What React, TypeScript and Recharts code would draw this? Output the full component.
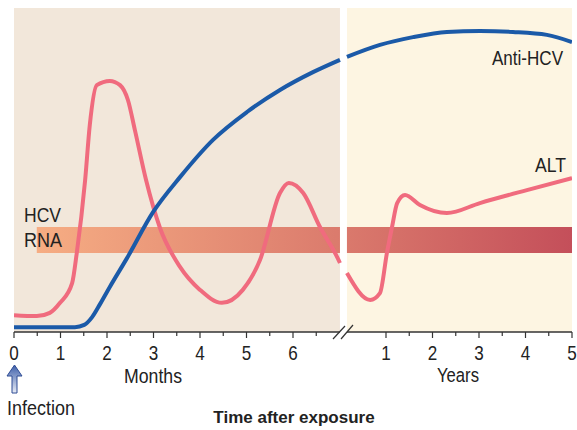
import { LineChart, Line, XAxis, YAxis, ReferenceArea, ReferenceLine } from 'recharts';

// tick labels
const MONTH_TICKS = ['0', '1', '2', '3', '4', '5', '6'];
const YEAR_TICKS = ['1', '2', '3', '4', '5'];
const YEAR_OFFSET = 7; // year n is drawn at position 7 + n
const BREAK_START = 7.01; // white gap between the months and years panels
const BREAK_END = 7.16;
const RNA_START = 0.49;
const RNA_LOW = 24.4;
const RNA_HIGH = 32.4;

// ALT (pink)
const ALT_EARLY = [
  { t: 0, v: 5.2 }, { t: 0.49, v: 4.9 }, { t: 0.77, v: 5.9 }, { t: 0.99, v: 9.0 },
  { t: 1.25, v: 15.1 }, { t: 1.35, v: 24.4 }, { t: 1.53, v: 46.9 }, { t: 1.63, v: 63.9 },
  { t: 1.78, v: 76.2 }, { t: 2.06, v: 77.5 }, { t: 2.28, v: 76.2 }, { t: 2.45, v: 71.6 },
  { t: 2.6, v: 62.3 }, { t: 2.84, v: 46.9 }, { t: 3.14, v: 32.1 }, { t: 3.57, v: 20.1 },
  { t: 4.0, v: 13.0 }, { t: 4.47, v: 9.0 }, { t: 4.92, v: 13.0 }, { t: 5.29, v: 22.2 },
  { t: 5.72, v: 42.9 }, { t: 5.91, v: 46.0 }, { t: 6.22, v: 42.9 }, { t: 6.58, v: 32.4 },
  { t: 6.95, v: 23.1 }, { t: 7.01, v: 21.3 },
];
const ALT_LATE = [
  { t: 7.16, v: 18.2 }, { t: 7.66, v: 9.9 }, { t: 7.87, v: 12.0 }, { t: 8.02, v: 24.4 },
  { t: 8.13, v: 32.4 }, { t: 8.24, v: 39.8 }, { t: 8.41, v: 42.3 }, { t: 8.73, v: 39.2 },
  { t: 9.31, v: 36.7 }, { t: 10.02, v: 39.8 }, { t: 11.03, v: 43.8 }, { t: 12, v: 47.5 },
];

// Anti-HCV (blue)
const ANTI_EARLY = [
  { t: 0, v: 1.5 }, { t: 1.31, v: 1.5 }, { t: 1.51, v: 2.2 }, { t: 1.68, v: 4.6 },
  { t: 1.85, v: 8.6 }, { t: 2.06, v: 13.9 }, { t: 2.43, v: 22.8 }, { t: 2.99, v: 37.0 },
  { t: 3.57, v: 47.8 }, { t: 4.28, v: 59.3 }, { t: 5.01, v: 67.9 }, { t: 5.72, v: 74.7 },
  { t: 6.43, v: 80.2 }, { t: 7.01, v: 84.0 },
];
const ANTI_LATE = [
  { t: 7.16, v: 84.9 }, { t: 7.87, v: 88.6 }, { t: 8.58, v: 91.0 }, { t: 9.31, v: 92.6 },
  { t: 10.02, v: 92.9 }, { t: 10.73, v: 92.6 }, { t: 11.46, v: 91.7 }, { t: 12, v: 89.5 },
];

const FONT = '"Liberation Sans", Arial, sans-serif';
const PINK = '#F06B7E';
const BLUE = '#1B5AA8';

const MAJOR = [
  ...MONTH_TICKS.map((_, i) => i),
  ...YEAR_TICKS.map((_, i) => YEAR_OFFSET + i + 1),
];
const MINOR = [
  ...MONTH_TICKS.map((_, i) => i + 0.5),
  ...YEAR_TICKS.slice(1).map((_, i) => YEAR_OFFSET + i + 1.5),
];
const TICKS = [...MAJOR, ...MINOR].sort((a, b) => a - b);

function AxisTick(props: any) {
  const { x, y, payload } = props;
  const t = payload.value as number;
  const major = Number.isInteger(t);
  let label: string | null = null;
  if (major) label = t < YEAR_OFFSET ? MONTH_TICKS[t] : YEAR_TICKS[t - YEAR_OFFSET - 1];
  return (
    <g>
      <line x1={x} x2={x} y1={y} y2={y + (major ? 6 : 4)} stroke="#333" strokeWidth={1.2} />
      {label && (
        <text
          x={x}
          y={y + 28}
          textAnchor="middle"
          fontSize={21}
          fontFamily={FONT}
          fill="#222"
          textLength={9.5}
          lengthAdjust="spacingAndGlyphs"
        >
          {label}
        </text>
      )}
    </g>
  );
}

// condensed text: regular font squeezed to the narrow width of the original
function Label({ x, y, w, anchor = 'start', children }: any) {
  return (
    <text
      x={x}
      y={y}
      textAnchor={anchor}
      fontSize={20.5}
      fontFamily={FONT}
      fill="#222"
      textLength={w}
      lengthAdjust="spacingAndGlyphs"
    >
      {children}
    </text>
  );
}

export default function App() {
  return (
    <div style={{ position: 'absolute', left: 0, top: 0, width: 577, height: 430, background: '#fff' }}>
      <svg width={0} height={0} style={{ position: 'absolute' }}>
        <defs>
          <linearGradient id="rnaBand" x1="0" y1="0" x2="1" y2="0">
            <stop offset="0%" stopColor="#F6AD83" />
            <stop offset="56%" stopColor="#DB7B6D" />
            <stop offset="100%" stopColor="#C44F5A" />
          </linearGradient>
          <linearGradient id="arrowFill" x1="0" y1="0" x2="0" y2="1">
            <stop offset="0%" stopColor="#3D5FAA" />
            <stop offset="100%" stopColor="#E8ECF6" />
          </linearGradient>
        </defs>
      </svg>
      <LineChart width={577} height={430} margin={{ top: 8, right: 5, bottom: 68, left: 14 }}>
        <XAxis
          type="number"
          dataKey="t"
          domain={[0, 12]}
          ticks={TICKS}
          interval={0}
          allowDataOverflow
          axisLine={false}
          tickLine={false}
          tickSize={0}
          tickMargin={0}
          height={30}
          tick={<AxisTick />}
        />
        <YAxis
          type="number"
          domain={[0, 100]}
          width={0}
          tick={false}
          tickLine={false}
          axisLine={{ stroke: '#222', strokeWidth: 1.5 }}
        />
        <ReferenceArea x1={0} x2={BREAK_START} y1={0} y2={100} fill="#F2E7DA" fillOpacity={1} stroke="none" />
        <ReferenceArea x1={BREAK_END} x2={12} y1={0} y2={100} fill="#FDF5E2" fillOpacity={1} stroke="none" />
        <ReferenceArea x1={RNA_START} x2={12} y1={RNA_LOW} y2={RNA_HIGH} fill="url(#rnaBand)" fillOpacity={1} stroke="none" />
        <ReferenceArea x1={BREAK_START} x2={BREAK_END} y1={0} y2={100} fill="#fff" fillOpacity={1} stroke="none" />
        <ReferenceLine segment={[{ x: 0, y: 0 }, { x: BREAK_START, y: 0 }]} stroke="#333" strokeWidth={1.3} ifOverflow="visible" />
        <ReferenceLine segment={[{ x: BREAK_END, y: 0 }, { x: 12, y: 0 }]} stroke="#333" strokeWidth={1.3} ifOverflow="visible" />
        <Line data={ALT_EARLY} dataKey="v" type="monotone" stroke={PINK} strokeWidth={4} dot={false} isAnimationActive={false} />
        <Line data={ALT_LATE} dataKey="v" type="monotone" stroke={PINK} strokeWidth={4} dot={false} isAnimationActive={false} />
        <Line data={ANTI_EARLY} dataKey="v" type="monotone" stroke={BLUE} strokeWidth={4} dot={false} isAnimationActive={false} />
        <Line data={ANTI_LATE} dataKey="v" type="monotone" stroke={BLUE} strokeWidth={4} dot={false} isAnimationActive={false} />
      </LineChart>
      <svg width={577} height={430} style={{ position: 'absolute', left: 0, top: 0, pointerEvents: 'none' }}>
        <line x1={333} y1={339} x2={345} y2={326} stroke="#333" strokeWidth={1.2} />
        <line x1={341} y1={339} x2={353} y2={325} stroke="#333" strokeWidth={1.2} />
        <Label x={563} y={65} w={71} anchor="end">Anti-HCV</Label>
        <Label x={566} y={172} w={31} anchor="end">ALT</Label>
        <Label x={24} y={222} w={37}>HCV</Label>
        <Label x={24} y={247} w={38}>RNA</Label>
        <Label x={153} y={383} w={58} anchor="middle">Months</Label>
        <Label x={458} y={382} w={42} anchor="middle">Years</Label>
        <Label x={7} y={415} w={68}>Infection</Label>
        <text x={294} y={423} textAnchor="middle" fontSize={17} fontWeight="bold" fontFamily={FONT} fill="#222">
          Time after exposure
        </text>
        <path
          d="M14.5 365 L22 376 L17 376 L17 393 L12 393 L12 376 L7 376 Z"
          fill="url(#arrowFill)"
          stroke="#2E4C95"
          strokeWidth={1}
        />
      </svg>
    </div>
  );
}
